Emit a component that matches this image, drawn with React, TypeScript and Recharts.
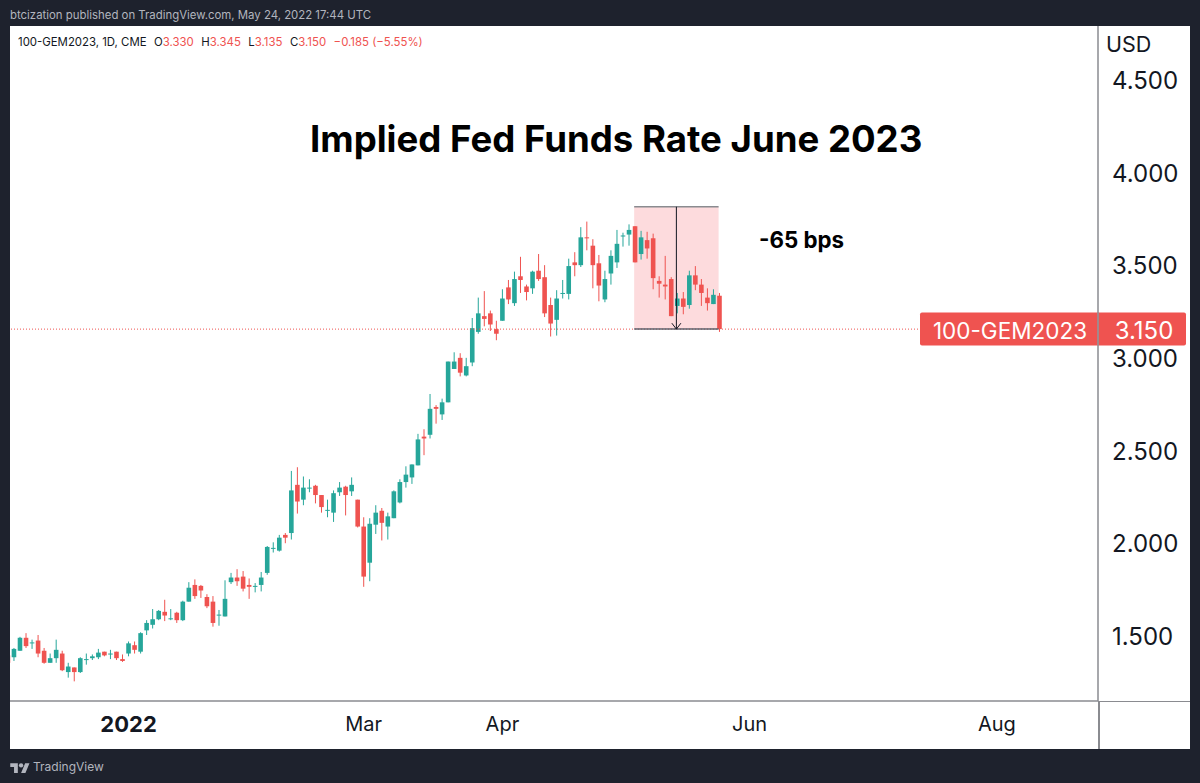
import React from 'react';
import { ComposedChart, Bar, XAxis, YAxis, ReferenceArea, ReferenceLine } from 'recharts';

// daily candles, first one sits half off the left edge of the pane
const opens = [1.39, 1.38, 1.415, 1.485, 1.455, 1.47, 1.415, 1.35, 1.375, 1.40, 1.30, 1.325, 1.30, 1.365, 1.375, 1.38, 1.41, 1.395, 1.41, 1.37, 1.40, 1.445, 1.41, 1.525, 1.555, 1.585, 1.625, 1.585, 1.62, 1.58, 1.68, 1.77, 1.765, 1.705, 1.68, 1.605, 1.60, 1.785, 1.81, 1.815, 1.77, 1.76, 1.77, 1.835, 1.965, 1.955, 2.04, 2.05, 2.31, 2.23, 2.29, 2.305, 2.255, 2.17, 2.16, 2.27, 2.30, 2.275, 2.23, 2.085, 1.89, 2.095, 2.17, 2.085, 2.13, 2.215, 2.325, 2.35, 2.415, 2.57, 2.58, 2.73, 2.69, 2.755, 2.935, 2.995, 2.90, 2.97, 3.135, 3.22, 3.235, 3.15, 3.195, 3.375, 3.29, 3.435, 3.38, 3.37, 3.465, 3.43, 3.28, 3.20, 3.34, 3.34, 3.51, 3.495, 3.645, 3.60, 3.505, 3.31, 3.45, 3.51, 3.65, 3.66, 3.705, 3.555, 3.63, 3.64, 3.41, 3.39, 3.42, 3.275, 3.315, 3.28, 3.44, 3.39, 3.32, 3.285, 3.33];
const highs = [1.40, 1.43, 1.49, 1.51, 1.475, 1.50, 1.43, 1.40, 1.475, 1.415, 1.35, 1.325, 1.38, 1.40, 1.395, 1.425, 1.41, 1.42, 1.41, 1.395, 1.465, 1.465, 1.515, 1.58, 1.64, 1.635, 1.69, 1.64, 1.625, 1.685, 1.785, 1.80, 1.77, 1.72, 1.71, 1.635, 1.795, 1.835, 1.855, 1.845, 1.805, 1.78, 1.84, 1.98, 2.00, 2.04, 2.05, 2.385, 2.405, 2.355, 2.34, 2.31, 2.255, 2.23, 2.28, 2.325, 2.305, 2.35, 2.23, 2.135, 2.13, 2.20, 2.185, 2.16, 2.28, 2.34, 2.41, 2.42, 2.585, 2.61, 2.80, 2.74, 2.775, 2.975, 3.025, 3.02, 2.995, 3.21, 3.32, 3.355, 3.25, 3.195, 3.365, 3.415, 3.46, 3.54, 3.39, 3.465, 3.555, 3.495, 3.32, 3.36, 3.415, 3.53, 3.565, 3.70, 3.73, 3.635, 3.55, 3.465, 3.575, 3.685, 3.67, 3.715, 3.705, 3.68, 3.675, 3.665, 3.435, 3.545, 3.43, 3.345, 3.35, 3.465, 3.49, 3.42, 3.37, 3.365, 3.345];
const lows = [1.345, 1.36, 1.415, 1.43, 1.425, 1.38, 1.345, 1.35, 1.35, 1.305, 1.27, 1.25, 1.295, 1.34, 1.365, 1.37, 1.385, 1.37, 1.365, 1.355, 1.385, 1.40, 1.40, 1.50, 1.535, 1.58, 1.575, 1.58, 1.565, 1.575, 1.68, 1.695, 1.70, 1.645, 1.545, 1.55, 1.60, 1.775, 1.765, 1.735, 1.695, 1.73, 1.735, 1.825, 1.945, 1.95, 1.995, 2.015, 2.155, 2.20, 2.27, 2.21, 2.16, 2.135, 2.11, 2.25, 2.145, 2.25, 2.08, 1.76, 1.79, 2.045, 2.01, 2.015, 2.13, 2.21, 2.295, 2.315, 2.415, 2.47, 2.56, 2.64, 2.66, 2.755, 2.935, 2.895, 2.895, 2.95, 3.125, 3.165, 3.14, 3.09, 3.195, 3.285, 3.275, 3.345, 3.305, 3.34, 3.41, 3.215, 3.11, 3.115, 3.315, 3.31, 3.435, 3.485, 3.575, 3.37, 3.30, 3.295, 3.39, 3.48, 3.595, 3.60, 3.51, 3.525, 3.53, 3.365, 3.32, 3.31, 3.22, 3.235, 3.23, 3.26, 3.36, 3.275, 3.25, 3.285, 3.135];
const closes = [1.35, 1.425, 1.485, 1.44, 1.46, 1.40, 1.35, 1.375, 1.42, 1.31, 1.33, 1.30, 1.375, 1.37, 1.385, 1.405, 1.39, 1.40, 1.375, 1.36, 1.455, 1.42, 1.51, 1.565, 1.585, 1.63, 1.605, 1.59, 1.58, 1.68, 1.755, 1.71, 1.74, 1.655, 1.565, 1.61, 1.695, 1.81, 1.79, 1.75, 1.76, 1.765, 1.81, 1.975, 1.97, 2.025, 2.025, 2.28, 2.22, 2.295, 2.295, 2.255, 2.19, 2.175, 2.265, 2.295, 2.255, 2.31, 2.085, 1.815, 2.10, 2.16, 2.105, 2.14, 2.275, 2.325, 2.365, 2.42, 2.555, 2.56, 2.72, 2.72, 2.755, 2.975, 2.975, 2.915, 2.95, 3.155, 3.235, 3.205, 3.175, 3.125, 3.315, 3.31, 3.42, 3.415, 3.35, 3.46, 3.42, 3.235, 3.18, 3.315, 3.345, 3.49, 3.495, 3.645, 3.64, 3.495, 3.385, 3.42, 3.545, 3.61, 3.655, 3.685, 3.51, 3.645, 3.585, 3.425, 3.395, 3.38, 3.22, 3.315, 3.27, 3.44, 3.39, 3.345, 3.29, 3.335, 3.15];

const xTickDays = [20, 59, 82, 123, 164];
const xTickLabels = ['2022', 'Mar', 'Apr', 'Jun', 'Aug'];
const yTicks = [1.5, 2, 2.5, 3, 3.5, 4, 4.5];
const lastPrice = 3.15;
const boxDays = [103.85, 117.85];
const boxPrices = [3.15, 3.81];
const arrowDay = 110.85;

const UP = '#26a69a';
const DOWN = '#ef5350';
const AXIS = '#8a8b90';
const FRAME = '#1e222d';
const FONT = 'Inter, sans-serif';

const data = opens.map((open, i) => ({
  day: i,
  open,
  high: highs[i],
  low: lows[i],
  close: closes[i],
  range: [lows[i], highs[i]],
}));

const Candle = (props: any) => {
  const { x, y, width, height, payload } = props;
  const { open, high, low, close } = payload;
  const color = close >= open ? UP : DOWN;
  const perUnit = height / (high - low);
  const cx = x + width / 2;
  const bodyTop = y + (high - Math.max(open, close)) * perUnit;
  const bodyH = Math.max(Math.abs(open - close) * perUnit, 1);
  return (
    <g>
      <line x1={cx} x2={cx} y1={y} y2={y + height} stroke={color} strokeWidth={1} />
      <rect x={cx - 2.3} y={bodyTop} width={4.6} height={bodyH} fill={color} />
    </g>
  );
};

const XTick = (props: any) => {
  const { x, y, payload } = props;
  const idx = xTickDays.indexOf(payload.value);
  const isYear = xTickLabels[idx] === '2022';
  return (
    <text x={x} y={y} textAnchor="middle" dominantBaseline="central" fontFamily={FONT}
      fontSize={isYear ? 22 : 20} fontWeight={isYear ? 700 : 400} fill="#131722">
      {xTickLabels[idx]}
    </text>
  );
};

const YTick = (props: any) => {
  const { x, y, payload } = props;
  return (
    <text x={x} y={y + 1.5} textAnchor="start" dominantBaseline="central" fontFamily={FONT} fontSize={24} fill="#131722">
      {payload.value.toFixed(3)}
    </text>
  );
};

const PriceTag = (props: any) => {
  const { x, y, width } = props.viewBox;
  const axisX = x + width;
  const midY = y;
  return (
    <g>
      <rect x={axisX - 178} y={midY - 16.5} width={266} height={33} rx={2} fill={DOWN} />
      <line x1={axisX} x2={axisX} y1={midY - 16.5} y2={midY + 16.5} stroke="#f7a9a8" strokeWidth={1} />
      <text x={axisX - 88} y={midY + 1} textAnchor="middle" dominantBaseline="central" fontFamily={FONT} fontSize={22.5} fill="#fff">
        100-GEM2023
      </text>
      <text x={axisX + 46} y={midY + 1} textAnchor="middle" dominantBaseline="central" fontFamily={FONT} fontSize={24} fill="#fff">
        3.150
      </text>
    </g>
  );
};

const abs = (left: number, top: number, extra: React.CSSProperties = {}): React.CSSProperties => ({
  position: 'absolute',
  left,
  top,
  whiteSpace: 'nowrap',
  fontFamily: FONT,
  ...extra,
});

export default function App() {
  return (
    <div style={{ position: 'absolute', left: 0, top: 0, width: 1200, height: 783, background: FRAME, overflow: 'hidden' }}>
      <div style={abs(10, 7, { fontSize: 11.4, color: '#b2b5be', lineHeight: '16px' })}>
        btcization published on TradingView.com, May 24, 2022 17:44 UTC
      </div>
      <div style={abs(10, 26, { width: 1180, height: 723, background: '#fff' })} />
      <div style={abs(1098, 701, { width: 1.5, height: 48, background: AXIS })} />
      <div style={abs(1098, 700.5, { width: 92, height: 1.5, background: AXIS })} />

      <div style={{ position: 'absolute', left: 0, top: 0 }}>
        <ComposedChart width={1200} height={783} data={data} margin={{ top: 26, left: 10, right: 10, bottom: 34 }}>
          <XAxis
            dataKey="day"
            type="number"
            domain={[0.34, 180.77]}
            allowDataOverflow
            ticks={xTickDays}
            interval={0}
            height={48}
            tickLine={false}
            tickMargin={0}
            axisLine={{ stroke: AXIS, strokeWidth: 1.5 }}
            tick={(p: any) => <XTick {...p} y={724} />}
          />
          <YAxis
            orientation="right"
            domain={[1.144, 4.785]}
            allowDataOverflow
            ticks={yTicks}
            interval={0}
            width={92}
            tickLine={false}
            tickMargin={8}
            axisLine={{ stroke: AXIS, strokeWidth: 1.5 }}
            tick={(p: any) => <YTick {...p} />}
          />
          <ReferenceArea x1={boxDays[0]} x2={boxDays[1]} y1={boxPrices[0]} y2={boxPrices[1]} fill="#f23645" fillOpacity={0.18} stroke="none" />
          <ReferenceLine y={lastPrice} stroke={DOWN} strokeWidth={1} strokeDasharray="1 2" label={(p: any) => <PriceTag {...p} />} />
          <ReferenceLine segment={[{ x: boxDays[0], y: boxPrices[1] }, { x: boxDays[1], y: boxPrices[1] }]} stroke={AXIS} strokeWidth={1.5} />
          <ReferenceLine segment={[{ x: boxDays[0], y: boxPrices[0] }, { x: boxDays[1], y: boxPrices[0] }]} stroke="#5d606b" strokeWidth={1.5} />
          <Bar dataKey="range" barSize={4} shape={Candle} isAnimationActive={false} />
          <ReferenceLine segment={[{ x: arrowDay, y: boxPrices[1] }, { x: arrowDay, y: boxPrices[0] }]} stroke="#131722" strokeWidth={1} />
          <ReferenceLine segment={[{ x: arrowDay, y: boxPrices[0] }, { x: arrowDay - 0.75, y: boxPrices[0] + 0.032 }]} stroke="#131722" strokeWidth={1} />
          <ReferenceLine segment={[{ x: arrowDay, y: boxPrices[0] }, { x: arrowDay + 0.75, y: boxPrices[0] + 0.032 }]} stroke="#131722" strokeWidth={1} />
        </ComposedChart>
      </div>

      <div style={abs(18, 33.5, { fontSize: 11.4, lineHeight: '16px', color: '#131722' })}>
        100-GEM2023, 1D, CME
        <span style={{ marginLeft: 7.5 }}>O<span style={{ color: DOWN }}>3.330</span></span>
        <span style={{ marginLeft: 7.5 }}>H<span style={{ color: DOWN }}>3.345</span></span>
        <span style={{ marginLeft: 7.5 }}>L<span style={{ color: DOWN }}>3.135</span></span>
        <span style={{ marginLeft: 7.5 }}>C<span style={{ color: DOWN }}>3.150</span></span>
        <span style={{ marginLeft: 7.5, color: DOWN }}>−0.185 (−5.55%)</span>
      </div>
      <div style={abs(1106, 31, { fontSize: 21.5, lineHeight: '26px', color: '#131722' })}>USD</div>
      <div style={abs(310, 117, { fontSize: 36.6, lineHeight: '44px', fontWeight: 700, color: '#000' })}>
        Implied Fed Funds Rate June 2023
      </div>
      <div style={abs(759, 227, { fontSize: 22.3, lineHeight: '26px', fontWeight: 700, color: '#000' })}>-65 bps</div>

      <svg style={{ position: 'absolute', left: 10, top: 761 }} width={20} height={13} viewBox="0 0 36 24">
        <path d="M14 22H7V11H0V4h14v18zM28 22h-8l7.5-18h8L28 22z" fill="#b2b5be" />
        <circle cx={20} cy={8} r={4} fill="#b2b5be" />
      </svg>
      <div style={abs(33, 759, { fontSize: 12, lineHeight: '16px', color: '#b2b5be' })}>TradingView</div>
    </div>
  );
}
